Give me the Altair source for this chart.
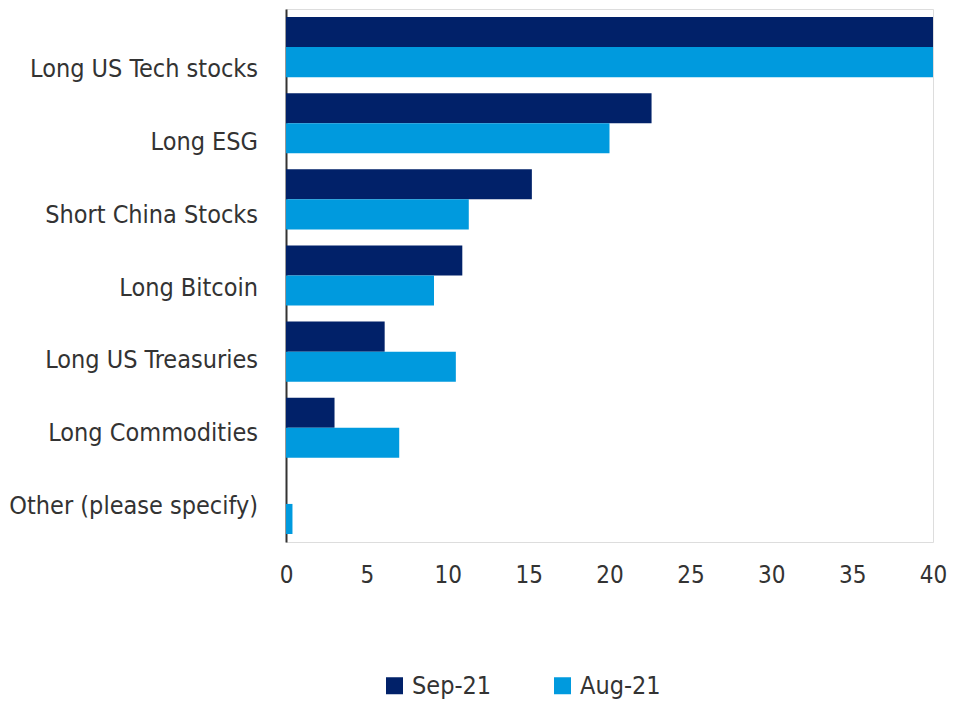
import altair as alt
import pandas as pd

categories = ["Long US Tech stocks", "Long ESG", "Short China Stocks", "Long Bitcoin",
              "Long US Treasuries", "Long Commodities", "Other (please specify)"]
series = ["Sep-21", "Aug-21"]
sep21 = [40, 22.6, 15.2, 10.9, 6.1, 3.0, 0]
aug21 = [40, 20.0, 11.3, 9.15, 10.5, 7.0, 0.4]
x_ticks = [0, 5, 10, 15, 20, 25, 30, 35, 40]
colors = ["#012169", "#009ADE"]

FONT = "DejaVu Sans Condensed, Liberation Sans Narrow, Liberation Sans"
TXT = "#333333"

rows = []
for c, a, b in zip(categories, sep21, aug21):
    rows.append({"category": c, "series": "Sep-21", "value": a})
    rows.append({"category": c, "series": "Aug-21", "value": b})
df = pd.DataFrame(rows)
labels_df = pd.DataFrame({"category": categories})

bars = alt.Chart(df).mark_bar().encode(
    x=alt.X("value:Q", scale=alt.Scale(domain=[0, 40], nice=False, zero=True),
            axis=alt.Axis(values=x_ticks, title=None, grid=False, ticks=False, domain=False,
                          labelFlush=False, labelFont=FONT, labelFontSize=24,
                          labelColor=TXT, labelPadding=21)),
    y=alt.Y("category:N", sort=categories,
            scale=alt.Scale(paddingInner=0.21, paddingOuter=0.105),
            axis=alt.Axis(title=None, labels=False, ticks=False, domainColor="#333333",
                          domainWidth=2)),
    yOffset=alt.YOffset("series:N", sort=series, scale=alt.Scale(paddingInner=0, paddingOuter=0)),
    color=alt.Color("series:N", sort=series, scale=alt.Scale(domain=series, range=colors),
                    legend=alt.Legend(title=None, orient="none", direction="horizontal",
                                      legendX=96, legendY=664, symbolType="square",
                                      symbolSize=289, symbolStrokeWidth=0, symbolOffset=0,
                                      labelFont=FONT, labelFontSize=25, labelColor=TXT,
                                      labelOffset=5, columnPadding=58, padding=0)),
)

texts = alt.Chart(labels_df).mark_text(align="right", baseline="middle", font=FONT,
                                        fontSize=25, color=TXT).encode(
    y=alt.Y("category:N", sort=categories,
            scale=alt.Scale(type="point", range=[60, 497], padding=0), axis=None),
    x=alt.value(-28),
    text="category:N",
)

chart = alt.layer(bars, texts).resolve_scale(y="independent").properties(
    width=647, height=533,
    autosize=alt.AutoSizeParams(type="none"),
    padding={"left": 278, "top": 1, "right": 14, "bottom": 160},
).configure_view(stroke="transparent", strokeWidth=0).configure(background="white")

chart.save("out.html", embed_options={"renderer": "svg", "actions": False})
